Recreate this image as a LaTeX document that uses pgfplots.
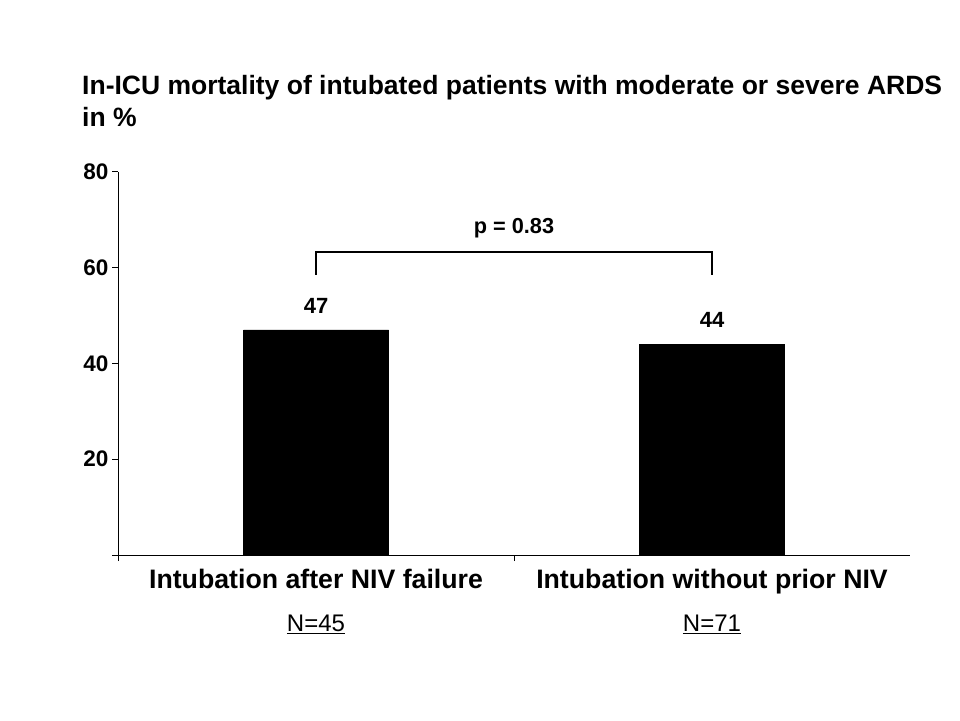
\documentclass[border=0pt]{standalone}
\usepackage{fontspec}
\setmainfont{Liberation Sans}
\usepackage{pgfplots}
\pgfplotsset{compat=1.18}
\begin{document}
\begin{tikzpicture}[x=1pt,y=1pt]
\path[use as bounding box] (0,0) rectangle (960,720);
\node[anchor=base west, align=left, inner sep=0pt,
      font=\fontsize{26.5}{32}\selectfont\bfseries] at (82,720-127)
  {In-ICU mortality of intubated patients with moderate or severe ARDS\\in \%};
\begin{axis}[
  at={(118pt,165pt)}, anchor=south west,
  width=792pt, height=383pt, scale only axis,
  xmin=-0.5, xmax=1.5, ymin=0, ymax=80,
  axis x line=bottom, axis y line=left,
  axis line style={-, line width=1pt, black},
  tick style={line width=1pt, black},
  tick align=outside, major tick length=6pt,
  ytick={0,20,40,60,80}, yticklabels={,20,40,60,80},
  yticklabel style={font=\fontsize{22.5}{26}\selectfont\bfseries},
  /pgf/number format/assume math mode=true,
  xtick={-0.5,0.5}, xticklabels={},
  extra x ticks={0,1},
  extra x tick labels={{Intubation after NIV failure\\[11pt]{\fontsize{24}{28}\selectfont\mdseries\underline{N=45}}},
                       {Intubation without prior NIV\\[11pt]{\fontsize{24}{28}\selectfont\mdseries\underline{N=71}}}},
  extra x tick style={major tick length=0pt,
     xticklabel style={font=\fontsize{26.7}{32}\selectfont\bfseries, align=center, yshift=-11pt}},
  clip=false,
  ybar, bar width=145pt,
  nodes near coords,
  every node near coord/.append style={font=\fontsize{22}{26}\selectfont\bfseries, yshift=13pt},
]
\addplot[fill=black, draw=black] coordinates {(0,47) (1,44)};
\draw[line width=2pt] (axis cs:0,58.5) -- (axis cs:0,63.2) -- (axis cs:1,63.2) -- (axis cs:1,58.5);
\node[font=\fontsize{21.7}{26}\selectfont\bfseries] at (axis cs:0.5,68.3) {p = 0.83};
\end{axis}
\end{tikzpicture}
\end{document}
